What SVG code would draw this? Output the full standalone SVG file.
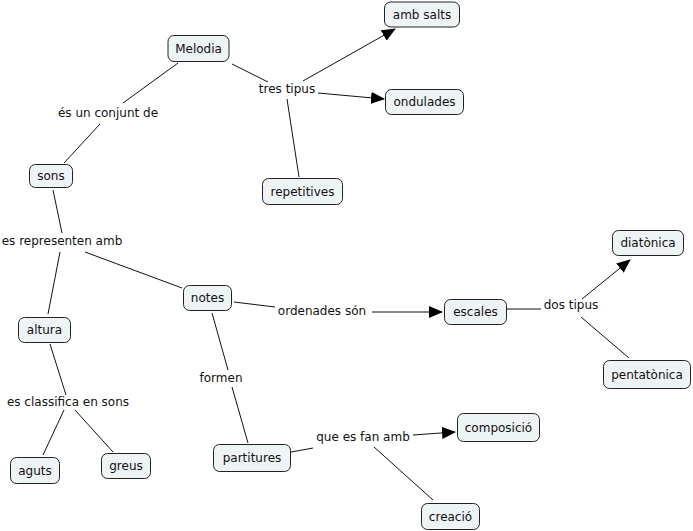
<svg xmlns="http://www.w3.org/2000/svg" width="693" height="531" viewBox="0 0 693 531">
<defs>
<style>
.n rect{fill:#eef3f5;stroke:#222;stroke-width:1;}
text{font-family:"DejaVu Sans",Verdana,sans-serif;font-size:12px;fill:#111;text-anchor:middle;dominant-baseline:central;}
.c line{stroke:#111;stroke-width:1;}
.a{marker-end:url(#ah);}
</style>
<marker id="ah" markerUnits="userSpaceOnUse" markerWidth="14" markerHeight="12" viewBox="0 0 14 12" refX="13" refY="6" orient="auto">
<path d="M0,0 L14,6 L0,12 Z" fill="#000"/>
</marker>
</defs>
<rect width="693" height="531" fill="#fff"/>
<g class="c" id="connectors">
<line x1="178" y1="63" x2="123" y2="103"/>
<line x1="100" y1="124" x2="64" y2="163"/>
<line x1="232" y1="64" x2="268" y2="82"/>
<line class="a" x1="303" y1="81" x2="395" y2="29"/>
<line class="a" x1="318" y1="93" x2="384" y2="99"/>
<line x1="287" y1="99" x2="299" y2="177"/>
<line x1="53" y1="190" x2="62" y2="233"/>
<line x1="60" y1="252" x2="48" y2="314"/>
<line x1="85" y1="252" x2="182" y2="288"/>
<line x1="50" y1="344" x2="66" y2="395"/>
<line x1="64" y1="410" x2="43" y2="455"/>
<line x1="75" y1="410" x2="113" y2="452"/>
<line x1="234" y1="302" x2="275" y2="307"/>
<line class="a" x1="372" y1="312" x2="442" y2="312"/>
<line x1="212" y1="313" x2="228" y2="370"/>
<line x1="232" y1="387" x2="248" y2="443"/>
<line x1="507" y1="309" x2="541" y2="309"/>
<line class="a" x1="582" y1="299" x2="630" y2="260"/>
<line x1="581" y1="317" x2="629" y2="358"/>
<line x1="291" y1="452" x2="313" y2="448"/>
<line class="a" x1="413" y1="435" x2="455" y2="432"/>
<line x1="374" y1="447" x2="433" y2="500"/>
</g>
<g id="labels">
<text x="108" y="113">és un conjunt de</text>
<text x="287" y="89">tres tipus</text>
<text x="62" y="241">es representen amb</text>
<text x="68" y="402">es classifica en sons</text>
<text x="322" y="311">ordenades són</text>
<text x="221" y="378">formen</text>
<text x="571" y="305">dos tipus</text>
<text x="363" y="437">que es fan amb</text>
</g>
<g class="n" id="n-melodia"><rect x="168" y="35.5" width="61" height="26" rx="6"/><text x="198.5" y="48.5">Melodia</text></g>
<g class="n" id="n-ambsalts"><rect x="384.5" y="2" width="75" height="25" rx="6"/><text x="422" y="14.5">amb salts</text></g>
<g class="n" id="n-ondulades"><rect x="385.5" y="89.5" width="78" height="25" rx="6"/><text x="424.5" y="102">ondulades</text></g>
<g class="n" id="n-repetitives"><rect x="262.5" y="178.5" width="80" height="26" rx="6"/><text x="302.5" y="191.5">repetitives</text></g>
<g class="n" id="n-sons"><rect x="29.5" y="164.5" width="43" height="23" rx="6"/><text x="51" y="176">sons</text></g>
<g class="n" id="n-notes"><rect x="183.5" y="285.5" width="48" height="25" rx="6"/><text x="207.5" y="298">notes</text></g>
<g class="n" id="n-altura"><rect x="18.5" y="317.5" width="52" height="25" rx="6"/><text x="44.5" y="330">altura</text></g>
<g class="n" id="n-aguts"><rect x="10.5" y="457.5" width="49" height="26" rx="6"/><text x="35" y="470.5">aguts</text></g>
<g class="n" id="n-greus"><rect x="101.5" y="453.5" width="49" height="25" rx="6"/><text x="126" y="466">greus</text></g>
<g class="n" id="n-partitures"><rect x="213.5" y="444.5" width="77" height="27" rx="6"/><text x="252" y="458">partitures</text></g>
<g class="n" id="n-escales"><rect x="444.5" y="299.5" width="62" height="25" rx="6"/><text x="475.5" y="312">escales</text></g>
<g class="n" id="n-diatonica"><rect x="612.5" y="230.5" width="71" height="25" rx="6"/><text x="648" y="243">diatònica</text></g>
<g class="n" id="n-pentatonica"><rect x="603.5" y="360.5" width="87" height="28" rx="6"/><text x="647" y="374.5">pentatònica</text></g>
<g class="n" id="n-composicio"><rect x="457.5" y="413.5" width="82" height="28" rx="6"/><text x="498.5" y="427.5">composició</text></g>
<g class="n" id="n-creacio"><rect x="421.5" y="503.5" width="58" height="26" rx="6"/><text x="450.5" y="516.5">creació</text></g>
</svg>
